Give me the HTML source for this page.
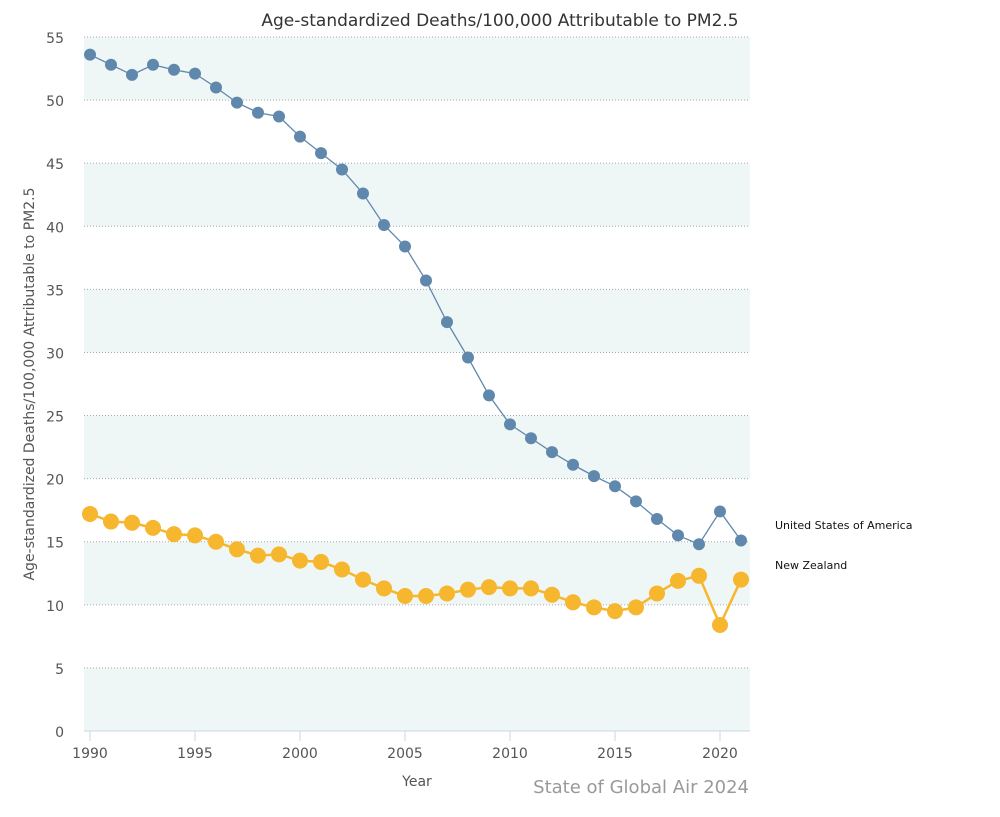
<!DOCTYPE html>
<html><head><meta charset="utf-8">
<style>
body{margin:0;background:#fff;width:1000px;height:813px;overflow:hidden;font-family:"DejaVu Sans","Liberation Sans",sans-serif;}
svg text{font-family:"DejaVu Sans","Liberation Sans",sans-serif;}
</style></head><body>
<svg id="chart" width="1000" height="813">
<g id="bands"></g><g id="grid"></g><g id="axes"></g><g id="series"></g>
<text x="500" y="26" text-anchor="middle" font-size="17" fill="#333">Age-standardized Deaths/100,000 Attributable to PM2.5</text>
<text transform="translate(34,384) rotate(-90)" text-anchor="middle" font-size="14" fill="#555">Age-standardized Deaths/100,000 Attributable to PM2.5</text>
<text x="417" y="786" text-anchor="middle" font-size="14" fill="#555">Year</text>
<text x="749" y="793" text-anchor="end" font-size="18" fill="#999">State of Global Air 2024</text>
<text x="775" y="529" font-size="11" fill="#111">United States of America</text>
<text x="775" y="569" font-size="11" fill="#111">New Zealand</text>
</svg>
<script>
const years=[1990,1991,1992,1993,1994,1995,1996,1997,1998,1999,2000,2001,2002,2003,2004,2005,2006,2007,2008,2009,2010,2011,2012,2013,2014,2015,2016,2017,2018,2019,2020,2021];
const usaValues=[53.6,52.8,52.0,52.8,52.4,52.1,51.0,49.8,49.0,48.7,47.1,45.8,44.5,42.6,40.1,38.4,35.7,32.4,29.6,26.6,24.3,23.2,22.1,21.1,20.2,19.4,18.2,16.8,15.5,14.8,17.4,15.1];
const nzValues=[17.2,16.6,16.5,16.1,15.6,15.5,15.0,14.4,13.9,14.0,13.5,13.4,12.8,12.0,11.3,10.7,10.7,10.9,11.2,11.4,11.3,11.3,10.8,10.2,9.8,9.5,9.8,10.9,11.9,12.3,8.4,12.0];
const yTicks=[0,5,10,15,20,25,30,35,40,45,50,55];
const xTicks=[1990,1995,2000,2005,2010,2015,2020];
const NS='http://www.w3.org/2000/svg';
const L=84,R=750,T=37,B=731;
const xs=y=>90+(y-1990)*21;
const ys=v=>B-(v/55)*(B-T);
function mk(tag,attrs,parent){const e=document.createElementNS(NS,tag);for(const k in attrs)e.setAttribute(k,attrs[k]);document.getElementById(parent).appendChild(e);return e;}
for(let i=0;i<yTicks.length-1;i+=2){
 const r=mk('rect',{x:L,y:ys(yTicks[i+1]),width:R-L,height:ys(yTicks[i])-ys(yTicks[i+1]),fill:'#eef7f6'},'bands');
 
 
}
yTicks.forEach(t=>{
 if(t>0){const l=mk('line',{x1:L,x2:R,y1:ys(t),y2:ys(t),stroke:'#aaa','stroke-dasharray':'1,2'},'grid');
 
 }
 const tx=mk('text',{x:64,y:ys(t)+6,'text-anchor':'end','font-size':'14',fill:'#555'},'axes');
 tx.textContent=t;
 
 
});
const ax=mk('line',{x1:L,x2:R,y1:B,y2:B,stroke:'#ccd6eb'},'axes');


xTicks.forEach(t=>{
 const tk=mk('line',{x1:xs(t),x2:xs(t),y1:B,y2:B+10,stroke:'#ccd6eb'},'axes');
 
 
 const tx=mk('text',{x:xs(t),y:B+27,'text-anchor':'middle','font-size':'14',fill:'#555'},'axes');
 tx.textContent=t;
 
 
});
function drawSeries(vals,color,w,r,name){
 const p=mk('polyline',{points:vals.map((v,i)=>xs(years[i])+','+ys(v)).join(' '),fill:'none',stroke:color,'stroke-width':w},'series');
 
 
 vals.forEach((v,i)=>{
  const c=mk('circle',{cx:xs(years[i]),cy:ys(v),r:r,fill:color},'series');
  
  
 });
}
drawSeries(nzValues,'#f6b62e',2.5,8,'new-zealand');
drawSeries(usaValues,'#6088ad',1.3,6,'usa');
</script>
</body></html>
